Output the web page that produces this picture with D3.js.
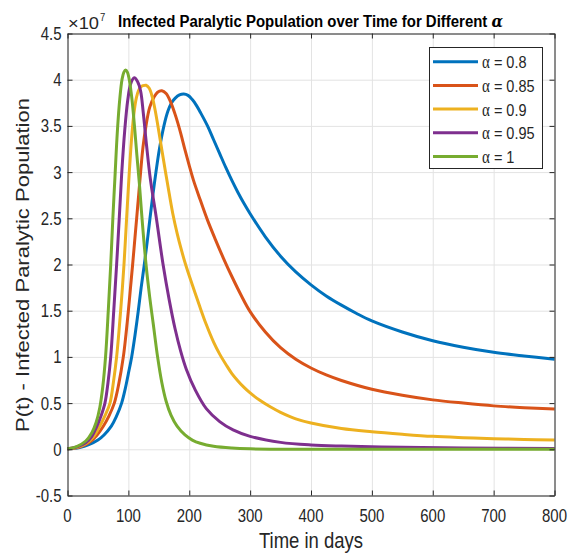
<!DOCTYPE html>
<html>
<head>
<meta charset="utf-8">
<script src="https://cdn.jsdelivr.net/npm/d3@7"></script>
<style>
  body { margin: 0; background: #fff; }
  svg { display: block; font-family: "Liberation Sans", Arial, sans-serif; }
</style>
</head>
<body>
<div id="chart"></div>
<script>
// P(t) values in units of 1e7
const alphaLabels = ["0.8", "0.85", "0.9", "0.95", "1"];
const lineColors = ["#0072BD", "#D95319", "#EDB120", "#7E2F8E", "#77AC30"];

const tA080 = [0, 20, 35, 50, 60, 72, 80, 88.9, 95, 100, 105.4, 111, 116.3, 121, 126.2, 131, 135.5, 140, 145.3, 151, 158.4, 165, 171, 177, 184, 191, 198, 205, 212, 218, 230, 240, 250, 260, 270, 280, 290, 300, 325, 350, 375, 400, 425, 450, 475, 500, 550, 600, 650, 700, 750, 800];
const pA080 = [0.005, 0.02, 0.05, 0.1, 0.155, 0.25, 0.35, 0.5, 0.66, 0.82, 1.0, 1.24, 1.5, 1.75, 2.0, 2.25, 2.5, 2.74, 3.0, 3.25, 3.5, 3.66, 3.75, 3.8, 3.835, 3.845, 3.83, 3.785, 3.72, 3.65, 3.50, 3.35, 3.20, 3.05, 2.91, 2.78, 2.66, 2.55, 2.30, 2.09, 1.92, 1.78, 1.66, 1.56, 1.47, 1.39, 1.27, 1.175, 1.105, 1.05, 1.01, 0.975];

const tA085 = [0, 20, 35, 48, 58.8, 68, 76.9, 84, 91.7, 96, 100, 103.5, 107, 110.3, 113.6, 117, 120.1, 124, 128.9, 135, 142, 148, 155, 162, 170, 178, 186, 193, 200, 207, 218, 230, 243, 256, 270, 285, 300, 325, 350, 375, 400, 425, 450, 500, 550, 600, 650, 700, 750, 800];
const pA085 = [0.005, 0.025, 0.07, 0.15, 0.25, 0.36, 0.5, 0.7, 1.0, 1.24, 1.5, 1.75, 2.0, 2.25, 2.5, 2.76, 3.0, 3.27, 3.5, 3.7, 3.81, 3.865, 3.88, 3.85, 3.75, 3.6, 3.42, 3.24, 3.07, 2.91, 2.70, 2.48, 2.27, 2.07, 1.87, 1.67, 1.49, 1.27, 1.10, 0.975, 0.88, 0.805, 0.745, 0.65, 0.585, 0.535, 0.50, 0.47, 0.45, 0.435];

const tA090 = [0, 15, 30, 42, 53, 62, 69.8, 75.5, 80.7, 84.2, 87.3, 90.2, 92.8, 95, 97.1, 99.3, 101.5, 104, 107, 110, 113, 116.5, 120, 124, 129, 134, 139, 144, 149, 155, 161, 167, 173, 180, 187, 194, 205, 217, 228, 240, 250, 261, 270, 280, 290, 300, 316, 333, 350, 375, 400, 450, 500, 550, 600, 650, 700, 750, 800];
const pA090 = [0.005, 0.02, 0.06, 0.13, 0.25, 0.37, 0.5, 0.73, 1.0, 1.25, 1.5, 1.75, 2.0, 2.25, 2.5, 2.75, 3.0, 3.25, 3.5, 3.68, 3.8, 3.88, 3.92, 3.935, 3.94, 3.91, 3.82, 3.67, 3.48, 3.24, 3.0, 2.77, 2.55, 2.34, 2.16, 2.0, 1.78, 1.55, 1.35, 1.16, 1.03, 0.91, 0.82, 0.74, 0.67, 0.61, 0.53, 0.46, 0.40, 0.33, 0.285, 0.225, 0.19, 0.163, 0.14, 0.126, 0.115, 0.107, 0.10];

const tA095 = [0, 15, 30, 40, 48, 55, 61.5, 66.5, 71, 76, 80.7, 85, 89, 94, 99, 104, 109.7, 115, 120, 124.5, 130, 136, 146, 157, 167, 176.5, 186, 195, 210, 228, 250, 272, 300, 350, 400, 450, 550, 650, 800];
const pA095 = [0.005, 0.025, 0.07, 0.14, 0.245, 0.36, 0.5, 0.72, 1.0, 1.5, 2.0, 2.5, 2.98, 3.45, 3.78, 3.96, 4.02, 3.98, 3.88, 3.64, 3.28, 2.93, 2.5, 2.0, 1.62, 1.31, 1.06, 0.87, 0.64, 0.44, 0.30, 0.21, 0.14, 0.075, 0.047, 0.035, 0.022, 0.015, 0.01];

const tA100 = [0, 15, 30, 40, 47, 53, 58, 62.5, 67, 71, 74.5, 78, 82, 86, 89.5, 92.5, 95.5, 98.5, 102, 106, 110, 114, 118, 123, 129, 135, 141, 148, 155, 162, 170, 180, 193, 205, 218, 240, 270, 300, 400, 800];
const pA100 = [0.005, 0.03, 0.09, 0.18, 0.29, 0.45, 0.68, 1.0, 1.5, 2.0, 2.5, 2.95, 3.45, 3.8, 4.0, 4.08, 4.105, 4.08, 3.98, 3.78, 3.5, 3.18, 2.88, 2.45, 2.0, 1.65, 1.35, 1.0, 0.72, 0.52, 0.37, 0.25, 0.155, 0.1, 0.065, 0.032, 0.013, 0.005, 0.001, 0];

const xTicks = [0, 100, 200, 300, 400, 500, 600, 700, 800];
const yTicks = [-0.5, 0, 0.5, 1, 1.5, 2, 2.5, 3, 3.5, 4, 4.5];

const seriesT = [tA080, tA085, tA090, tA095, tA100];
const seriesP = [pA080, pA085, pA090, pA095, pA100];

const width = 577, height = 556;
const margin = { top: 33.5, right: 22.5, bottom: 60.5, left: 67.5 };
const plotW = width - margin.left - margin.right;
const plotH = height - margin.top - margin.bottom;
const axisColor = "#262626";
const stretch = 1.2; // the reference glyphs are taller than wide

const svg = d3.select("#chart").append("svg")
    .attr("width", width)
    .attr("height", height);

svg.append("rect").attr("width", width).attr("height", height).attr("fill", "#fff");

// text helper: horizontal text, vertically stretched
function label(x, y, size, anchor) {
    return svg.append("g")
        .attr("transform", `translate(${x},${y}) scale(1,${stretch})`)
        .append("text")
        .attr("text-anchor", anchor || "start")
        .attr("font-size", size)
        .attr("fill", axisColor);
}

const g = svg.append("g").attr("transform", `translate(${margin.left},${margin.top})`);

const x = d3.scaleLinear().domain([0, 800]).range([0, plotW]);
const y = d3.scaleLinear().domain([-0.5, 4.5]).range([plotH, 0]);

// grid
g.append("g")
    .attr("transform", `translate(0,${plotH})`)
    .call(d3.axisBottom(x).tickValues(xTicks).tickSize(-plotH).tickFormat(""))
    .call(s => s.select(".domain").remove())
    .call(s => s.selectAll("line").attr("stroke", "#e3e3e3"));
g.append("g")
    .call(d3.axisLeft(y).tickValues(yTicks).tickSize(-plotW).tickFormat(""))
    .call(s => s.select(".domain").remove())
    .call(s => s.selectAll("line").attr("stroke", "#e3e3e3"));

// curves
const line = d3.line()
    .x(d => x(d[0]))
    .y(d => y(d[1]))
    .curve(d3.curveCatmullRom.alpha(0.5));

seriesT.forEach((ts, i) => {
    const pts = ts.map((t, j) => [t, seriesP[i][j]]);
    g.append("path")
        .datum(pts)
        .attr("fill", "none")
        .attr("stroke", lineColors[i])
        .attr("stroke-width", 3)
        .attr("stroke-linejoin", "round")
        .attr("d", line);
});

// box with inward ticks
const styleAxis = s => {
    s.select(".domain").attr("stroke", axisColor);
    s.selectAll("line").attr("stroke", axisColor);
};
g.append("g")
    .attr("transform", `translate(0,${plotH})`)
    .call(d3.axisBottom(x).tickValues(xTicks).tickSizeInner(-5).tickSizeOuter(0).tickFormat(""))
    .call(styleAxis);
g.append("g")
    .call(d3.axisLeft(y).tickValues(yTicks).tickSizeInner(-5).tickSizeOuter(0).tickFormat(""))
    .call(styleAxis);
g.append("g")
    .call(d3.axisTop(x).tickValues(xTicks).tickSizeInner(-5).tickSizeOuter(0).tickFormat(""))
    .call(styleAxis);
g.append("g")
    .attr("transform", `translate(${plotW},0)`)
    .call(d3.axisRight(y).tickValues(yTicks).tickSizeInner(-5).tickSizeOuter(0).tickFormat(""))
    .call(styleAxis);

// tick labels
xTicks.forEach(v => {
    label(margin.left + x(v), 521.5, 15, "middle").text(String(v));
});
yTicks.forEach(v => {
    label(61.5, margin.top + y(v) + 6.4, 15, "end").text(String(v));
});

// exponent label
label(68, 29, 13).attr("textLength", 31).attr("lengthAdjust", "spacingAndGlyphs").text("×10");
label(100, 20.5, 9.5).text("7");

// title
const title = label(118, 26.5, 13.5)
    .attr("font-weight", "bold")
    .attr("fill", "#000")
    .attr("textLength", 385)
    .attr("lengthAdjust", "spacingAndGlyphs");
title.append("tspan").text("Infected Paralytic Population over Time for Different ");
title.append("tspan").attr("font-family", "'DejaVu Serif', serif").attr("font-style", "italic").text("α");

// axis labels
label(margin.left + plotW / 2, 547.5, 18.5, "middle").text("Time in days");

svg.append("text")
    .attr("transform", `translate(28.5,265) rotate(-90)`)
    .attr("text-anchor", "middle")
    .attr("font-size", 18)
    .attr("fill", axisColor)
    .attr("textLength", 334)
    .attr("lengthAdjust", "spacingAndGlyphs")
    .text("P(t) - Infected Paralytic Population");

// legend
svg.append("rect")
    .attr("x", 429.5).attr("y", 47.5)
    .attr("width", 113)
    .attr("height", 121)
    .attr("fill", "#fff")
    .attr("stroke", axisColor)
    .attr("stroke-width", 1);

alphaLabels.forEach((a, i) => {
    const cy = 61.7 + i * 23.7;
    svg.append("line")
        .attr("x1", 433).attr("x2", 478)
        .attr("y1", cy).attr("y2", cy)
        .attr("stroke", lineColors[i])
        .attr("stroke-width", 3);
    const t = label(482, cy + 6.4, 14.5);
    t.append("tspan").attr("font-family", "'Liberation Serif', serif").attr("font-size", 15).text("α");
    t.append("tspan").text(" = " + a);
});
</script>
</body>
</html>
